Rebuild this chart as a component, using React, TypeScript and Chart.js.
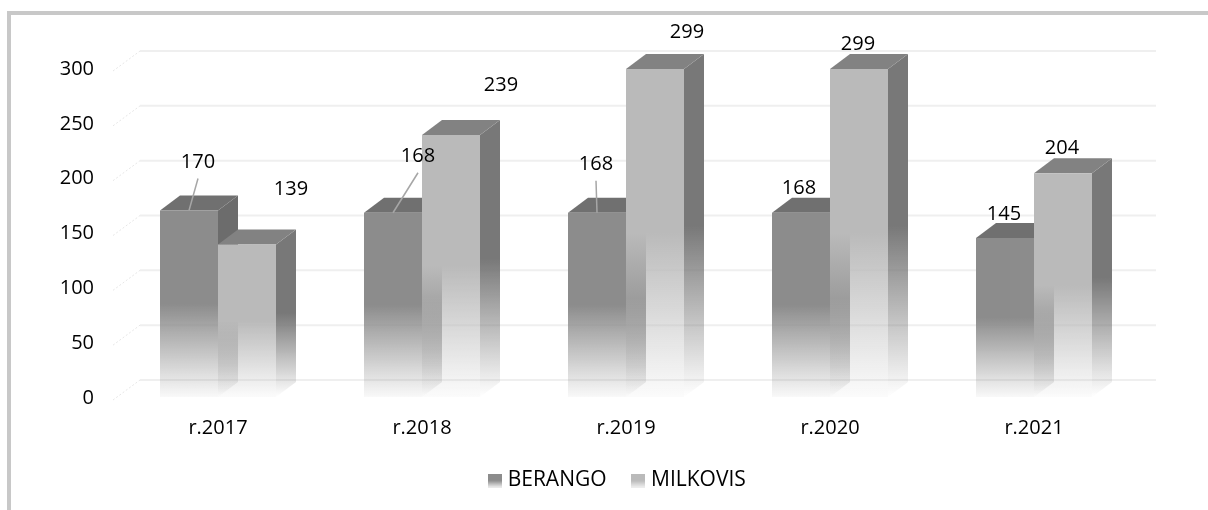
import React, { useEffect, useRef } from "react";
import { Chart, registerables } from "chart.js";

Chart.register(...registerables);

const categories = ["r.2017", "r.2018", "r.2019", "r.2020", "r.2021"];
const berango = [170, 168, 168, 168, 145];
const milkovis = [139, 239, 299, 299, 204];
const berangoLabelOffsets = [[9, -49], [25, -57], [-1, -49], [-2, -25], [-1, -25]];
const milkovisLabelOffsets = [[44, -56], [50, -51], [32, -38], [-1, -26], [-1, -26]];
const berangoLeaders = [true, true, true, false, false];
const milkovisLeaders = [false, false, false, false, false];

const FONT = '"Open Sans", sans-serif';
const FONT_SIZE = 20;
const LEGEND_SIZE = 21;
const DX = 20;
const DY = 15;
const WALL_DY = 17;

const palette = [
  { front: [140, 140, 140], side: [108, 108, 108], top: [112, 112, 112] },
  { front: [186, 186, 186], side: [120, 120, 120], top: [130, 130, 130] },
];

const rgb = (c: number[], a = 1) => `rgba(${c[0]},${c[1]},${c[2]},${a})`;

function fade(ctx: CanvasRenderingContext2D, top: number, bottom: number, c: number[], endAlpha: number) {
  const g = ctx.createLinearGradient(0, top, 0, bottom);
  g.addColorStop(0, rgb(c));
  g.addColorStop(0.5, rgb(c));
  g.addColorStop(1, rgb(c, endAlpha));
  return g;
}

function swatch(c: number[]) {
  const cv = document.createElement("canvas");
  cv.width = 14;
  cv.height = 14;
  const x = cv.getContext("2d")!;
  const g = x.createLinearGradient(0, 0, 0, 14);
  g.addColorStop(0, rgb(c));
  g.addColorStop(0.5, rgb(c));
  g.addColorStop(1, "rgb(240,240,240)");
  x.fillStyle = g;
  x.fillRect(0, 0, 14, 14);
  return cv;
}

const wallPlugin = {
  id: "wall",
  afterLayout(chart: any) {
    chart.legend.left += 51;
    chart.legend.right += 51;
    chart.legend.top -= 9;
    chart.legend.bottom -= 9;
  },
  beforeDatasetsDraw(chart: any) {
    const { ctx, chartArea, scales } = chart;
    ctx.save();
    scales.y.ticks.forEach((t: any) => {
      const y = scales.y.getPixelForValue(t.value);
      ctx.strokeStyle = "#efefef";
      ctx.lineWidth = 2;
      ctx.beginPath();
      ctx.moveTo(chartArea.left + 24, y - WALL_DY);
      ctx.lineTo(chartArea.right + DX, y - WALL_DY);
      ctx.stroke();
      ctx.lineWidth = 1;
      ctx.strokeStyle = "#e6e6e6";
      ctx.setLineDash([2, 2]);
      ctx.beginPath();
      ctx.moveTo(chartArea.left - 3, y + 3);
      ctx.lineTo(chartArea.left + 24, y - WALL_DY);
      ctx.stroke();
      ctx.setLineDash([]);
    });
    ctx.restore();
  },
};

const facesPlugin = {
  id: "faces",
  beforeDatasetsDraw(chart: any) {
    const { ctx, scales } = chart;
    const base = scales.y.getPixelForValue(0);
    ctx.save();
    chart.data.datasets.forEach((_: any, i: number) => {
      const p = palette[i];
      chart.getDatasetMeta(i).data.forEach((el: any) => {
        const l = el.x - el.width / 2;
        const r = el.x + el.width / 2;
        const t = el.y;
        ctx.fillStyle = fade(ctx, t - DY, base, p.side, 0);
        ctx.beginPath();
        ctx.moveTo(r, t);
        ctx.lineTo(r + DX, t - DY);
        ctx.lineTo(r + DX, base - DY);
        ctx.lineTo(r, base);
        ctx.closePath();
        ctx.fill();
        ctx.fillStyle = rgb(p.top);
        ctx.beginPath();
        ctx.moveTo(l, t);
        ctx.lineTo(l + DX, t - DY);
        ctx.lineTo(r + DX, t - DY);
        ctx.lineTo(r, t);
        ctx.closePath();
        ctx.fill();
      });
    });
    ctx.restore();
  },
};

const labelsPlugin = {
  id: "valueLabels",
  afterDatasetsDraw(chart: any) {
    const { ctx } = chart;
    const offsets = [berangoLabelOffsets, milkovisLabelOffsets];
    const leaders = [berangoLeaders, milkovisLeaders];
    ctx.save();
    ctx.font = `${FONT_SIZE}px ${FONT}`;
    ctx.textAlign = "center";
    ctx.textBaseline = "middle";
    chart.data.datasets.forEach((ds: any, i: number) => {
      chart.getDatasetMeta(i).data.forEach((el: any, j: number) => {
        const [ox, oy] = offsets[i][j];
        const lx = el.x + ox;
        const ly = el.y + oy;
        if (leaders[i][j]) {
          ctx.strokeStyle = "#a6a6a6";
          ctx.lineWidth = 1.5;
          ctx.beginPath();
          ctx.moveTo(lx, ly + 17);
          ctx.lineTo(el.x, el.y);
          ctx.stroke();
        }
        ctx.fillStyle = "#000";
        ctx.fillText(String(ds.data[j]), lx, ly + 1);
      });
    });
    ctx.restore();
  },
};

export default function App() {
  const ref = useRef<HTMLCanvasElement>(null);
  useEffect(() => {
    const makeBg = (i: number) => (c: any) => {
      const el = c.chart.getDatasetMeta(c.datasetIndex).data[c.dataIndex];
      const area = c.chart.chartArea;
      if (!el || !area || c.type !== "data") return rgb(palette[i].front);
      const y = c.chart.scales.y;
      return fade(c.chart.ctx, y.getPixelForValue(c.raw), y.getPixelForValue(0), palette[i].front, 0.05);
    };
    const chart = new Chart(ref.current!, {
      type: "bar",
      data: {
        labels: categories,
        datasets: [
          { label: "BERANGO", data: berango, backgroundColor: makeBg(0), borderWidth: 0 },
          { label: "MILKOVIS", data: milkovis, backgroundColor: makeBg(1), borderWidth: 0 },
        ],
      },
      options: {
        animation: false,
        responsive: false,
        layout: { padding: { left: 0, right: 72, top: 68, bottom: 0 } },
        datasets: { bar: { categoryPercentage: 116 / 204, barPercentage: 1 } },
        scales: {
          x: {
            grid: { display: false },
            border: { display: false },
            afterFit: (s: any) => { s.height = 53; },
            ticks: { color: "#000", padding: 11, font: { family: FONT, size: FONT_SIZE } },
          },
          y: {
            min: 0,
            max: 300,
            grid: { display: false },
            border: { display: false },
            afterFit: (s: any) => { s.width = 116; },
            ticks: { stepSize: 50, color: "#000", padding: 14, labelOffset: 1, font: { family: FONT, size: FONT_SIZE } },
          },
        },
        plugins: {
          tooltip: { enabled: false },
          legend: {
            position: "bottom",
            labels: {
              color: "#000",
              font: { family: FONT, size: LEGEND_SIZE },
              padding: 29,
              usePointStyle: true,
              boxWidth: 5,
              generateLabels: () => [
                { text: "BERANGO", pointStyle: swatch(palette[0].front), datasetIndex: 0, fontColor: "#000", lineWidth: 0 },
                { text: "MILKOVIS", pointStyle: swatch(palette[1].front), datasetIndex: 1, fontColor: "#000", lineWidth: 0 },
              ],
            },
          },
        },
      } as any,
      plugins: [wallPlugin, facesPlugin, labelsPlugin],
    } as any);
    return () => chart.destroy();
  }, []);
  return (
    <div style={{ position: "absolute", left: 0, top: 0, width: 1208, height: 510, background: "#fff", overflow: "hidden" }}>
      <canvas ref={ref} width={1208} height={510} style={{ position: "absolute", left: 0, top: 0 }} />
      <div style={{ position: "absolute", left: 7, top: 11, right: 0, bottom: 0, borderLeft: "4px solid #c8c8c8", borderTop: "4px solid #c8c8c8", pointerEvents: "none" }} />
    </div>
  );
}
